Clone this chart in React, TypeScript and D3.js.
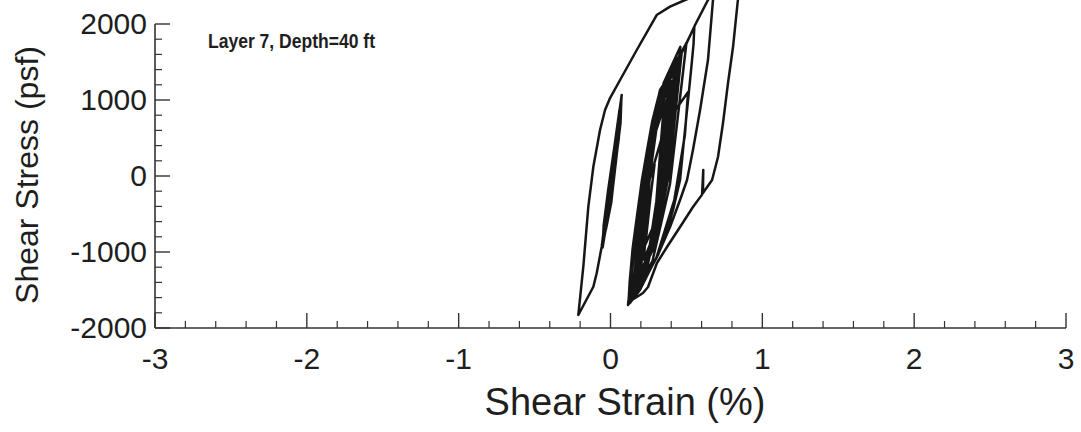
import React, { useEffect } from 'react';
import * as d3 from 'd3';

// Axis ticks
const strainTicks = [-3, -2, -1, 0, 1, 2, 3];
const stressTicks = [-2000, -1000, 0, 1000, 2000];

// Stress-strain history, [strain %, stress psf], in time order.
// Small cycles around the origin
const initialCycles: [number, number][] = [
  [0, 0], [0.022, 300], [0.048, 700], [0.066, 930],
  [0.06, 600], [0.035, 200], [0.005, -350], [-0.03, -700],
  [-0.02, -420], [0.005, 0], [0.04, 550], [0.072, 1040],
  [0.066, 700], [0.045, 350], [0.01, -250], [-0.045, -850],
  [-0.038, -560], [-0.01, -120], [0.03, 450], [0.06, 880],
  [0.055, 500], [0.02, 0], [-0.02, -550], [-0.052, -940],
  [-0.045, -650], [-0.015, -180], [0.028, 420], [0.074, 1066],
];

// Unloading to the negative peak
const unloadToMin: [number, number][] = [
  [0.051, 562], [0.018, 122], [-0.025, -404], [-0.058, -930],
  [-0.091, -1280], [-0.113, -1457], [-0.212, -1829],
];

// Reloading to the first positive peak
const reloadToMax: [number, number][] = [
  [-0.179, -1193], [-0.146, -404], [-0.113, 122], [-0.069, 605],
  [-0.036, 868], [-0.003, 1026], [0.063, 1263], [0.173, 1658],
  [0.304, 2118], [0.392, 2228], [0.491, 2316], [0.7, 2470], [0.88, 2560],
];

// Unloading from the first peak, with a brief reversal part way down
const firstUnload: [number, number][] = [
  [0.862, 2440], [0.839, 2316], [0.807, 1697], [0.774, 1224],
  [0.741, 697], [0.708, 250], [0.669, -53], [0.609, -224],
  [0.611, 79], [0.603, -245],
  [0.543, -408], [0.458, -671], [0.372, -934], [0.306, -1145],
  [0.247, -1461], [0.214, -1539], [0.194, -1566], [0.141, -1632], [0.115, -1697],
];

// Cycling about the shifted strain
const clusterA: [number, number][] = [
  [0.231, 199], [0.354, 1233], [0.5, 1750],
  [0.392, -104], [0.277, -1115], [0.14, -1620],
  [0.233, 96], [0.332, 1032], [0.45, 1500],
  [0.366, -106], [0.276, -982], [0.17, -1420],
  [0.239, 49], [0.313, 850], [0.4, 1250],
  [0.325, -296], [0.245, -1139], [0.15, -1560],
  [0.246, 206], [0.348, 1169], [0.47, 1650],
  [0.386, 27], [0.296, -858], [0.19, -1300],
  [0.244, -35], [0.302, 655], [0.37, 1000],
  [0.307, -375], [0.24, -1125], [0.16, -1500],
  [0.241, 123], [0.327, 1008], [0.43, 1450],
  [0.34, -255], [0.244, -1185], [0.13, -1650],
];

// Second large excursion
const secondExcursion: [number, number][] = [
  [0.14, -1193], [0.161, -750], [0.194, -276], [0.227, 118],
  [0.26, 474], [0.293, 829], [0.326, 1132], [0.37, 1263],
  [0.436, 1487], [0.502, 1750], [0.557, 1987], [0.642, 2316], [0.74, 2520],
  [0.712, 2420], [0.675, 2316], [0.642, 1526], [0.59, 868],
  [0.543, 342], [0.504, -53], [0.458, -316], [0.392, -671],
  [0.306, -1066], [0.214, -1368], [0.148, -1592], [0.118, -1690],
];

// Remaining cycles
const clusterB: [number, number][] = [
  [0.126, -1400], [0.146, -950], [0.175, -520], [0.205, -80],
  [0.24, 330], [0.275, 720], [0.315, 1040], [0.36, 1230],
  [0.43, 1470], [0.497, 1735], [0.552, 1960],
  [0.547, 1740], [0.537, 1526], [0.511, 1000], [0.484, 474],
  [0.458, -53], [0.412, -447], [0.372, -711], [0.313, -1039],
  [0.26, -1237], [0.194, -1500], [0.128, -1671],
  [0.243, -144], [0.365, 689], [0.511, 1105],
  [0.49, 540], [0.42, -317], [0.3, -1090], [0.17, -1480],
  [0.257, 269], [0.35, 1223], [0.46, 1700],
  [0.382, 78], [0.299, -808], [0.2, -1250],
  [0.254, 70], [0.312, 790], [0.38, 1150],
  [0.32, -253], [0.256, -1018], [0.18, -1400],
  [0.252, 140], [0.329, 980], [0.42, 1400],
  [0.36, 25], [0.296, -725], [0.22, -1100],
  [0.259, 0], [0.301, 600], [0.35, 900],
  [0.302, -338], [0.251, -1013], [0.19, -1350],
  [0.265, 245], [0.345, 1115], [0.44, 1550],
  [0.377, 203], [0.31, -533], [0.23, -900],
  [0.262, -300], [0.29, 150],
];

const history: [number, number][] = [
  ...initialCycles, ...unloadToMin, ...reloadToMax, ...firstUnload,
  ...clusterA, ...secondExcursion, ...clusterB,
];

const FONT = '"Liberation Sans", Arial, Helvetica, sans-serif';

export default function App() {
  useEffect(() => {
    document.body.style.margin = '0';
  }, []);

  const W = 1081;
  const H = 432;
  const x = d3.scaleLinear().domain([-3, 3]).range([155, 1066]);
  const y = d3.scaleLinear().domain([-2000, 2000]).range([328, 24]);

  const minorX = d3.range(-30, 31, 2).map((v) => v / 10).filter((v) => Math.abs(v - Math.round(v)) > 1e-6);
  const minorY = d3.range(-2000, 2001, 200).filter((v) => v % 1000 !== 0);

  const line = d3.line<[number, number]>().x((d) => x(d[0])).y((d) => y(d[1]));

  const axisColor = '#333';
  const textColor = '#1e1e1e';

  return (
    <svg width={W} height={H} style={{ position: 'absolute', left: 0, top: 0, display: 'block' }}>
      <rect width={W} height={H} fill="#fff" />
      {/* curve */}
      <path d={line(history) ?? ''} fill="none" stroke="#161616" strokeWidth={2.5} strokeLinejoin="round" strokeLinecap="round" />

      {/* axes */}
      <line x1={x(-3)} x2={x(3)} y1={y(-2000)} y2={y(-2000)} stroke={axisColor} strokeWidth={1.6} />
      <line x1={x(-3)} x2={x(-3)} y1={y(-2000)} y2={y(2000)} stroke={axisColor} strokeWidth={1.6} />
      {strainTicks.map((v) => (
        <line key={'mx' + v} x1={x(v)} x2={x(v)} y1={y(-2000)} y2={y(-2000) - 15} stroke={axisColor} strokeWidth={1.4} />
      ))}
      {minorX.map((v) => (
        <line key={'nx' + v} x1={x(v)} x2={x(v)} y1={y(-2000)} y2={y(-2000) - 7} stroke={axisColor} strokeWidth={1.2} />
      ))}
      {stressTicks.map((v) => (
        <line key={'my' + v} x1={x(-3)} x2={x(-3) + 15} y1={y(v)} y2={y(v)} stroke={axisColor} strokeWidth={1.4} />
      ))}
      {minorY.map((v) => (
        <line key={'ny' + v} x1={x(-3)} x2={x(-3) + 7} y1={y(v)} y2={y(v)} stroke={axisColor} strokeWidth={1.2} />
      ))}

      {/* tick labels */}
      {strainTicks.map((v) => (
        <text key={'lx' + v} x={x(v)} y={369} textAnchor="middle" fontFamily={FONT} fontSize={30} fill={textColor}>
          {String(v)}
        </text>
      ))}
      {stressTicks.map((v) => (
        <text key={'ly' + v} x={147} y={y(v) + 10} textAnchor="end" fontFamily={FONT} fontSize={30} fill={textColor}>
          {String(v)}
        </text>
      ))}

      {/* axis titles */}
      <text x={625} y={415} textAnchor="middle" fontFamily={FONT} fontSize={38} fill={textColor}>
        Shear Strain (%)
      </text>
      <text
        transform={`translate(38, 175) rotate(-90)`}
        textAnchor="middle"
        fontFamily={FONT}
        fontSize={32}
        fill={textColor}
      >
        Shear Stress (psf)
      </text>

      {/* annotation */}
      <text x={208} y={48} fontFamily={FONT} fontSize={20} fontWeight="bold" fill={textColor} textLength={167} lengthAdjust="spacingAndGlyphs">
        Layer 7, Depth=40 ft
      </text>
    </svg>
  );
}
